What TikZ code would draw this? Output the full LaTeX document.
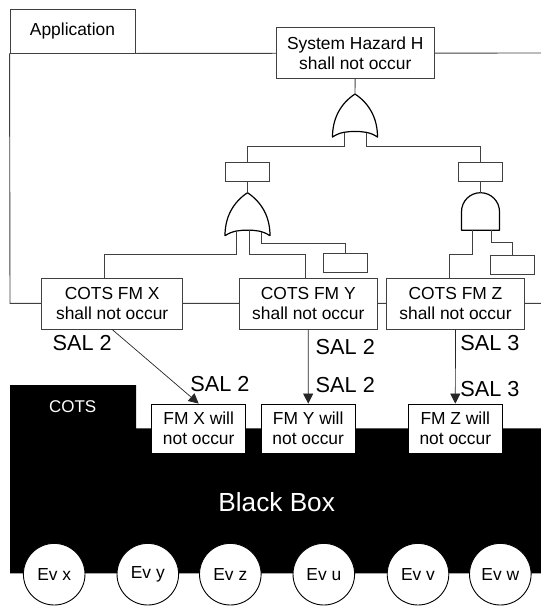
\documentclass[tikz,border=0pt]{standalone}
\usepackage{fontspec}
\setmainfont{Liberation Sans}
\usetikzlibrary{arrows.meta}

\tikzset{
  box/.style={draw=black!75, fill=white, line width=0.9pt, align=center, inner sep=0pt,
    font=\fontsize{17.4}{20}\selectfont},
  tinybox/.style={draw=black!75, fill=white, line width=0.9pt, inner sep=0pt,
    minimum width=44pt, minimum height=18.6pt},
  wire/.style={draw=black!75, line width=0.9pt},
  gate/.style={draw=black, fill=white, line width=1.2pt, line join=round},
  sal/.style={font=\fontsize{21.7}{24}\selectfont, inner sep=0pt},
  flow/.style={draw=black!85, line width=0.7pt, -{Triangle[length=10pt, width=10pt]}},
  event/.style={circle, draw=black, fill=white, line width=0.9pt, minimum size=61.6pt,
    inner sep=0pt, font=\fontsize{17.4}{20}\selectfont},
  orgate/.pic={
    \draw[gate] (0,0) .. controls (15,10) and (22.5,25) .. (22.5,43)
      .. controls (15,38) and (8,37.5) .. (0,37.5)
      .. controls (-8,37.5) and (-15,38) .. (-22.5,43)
      .. controls (-22.5,25) and (-15,10) .. (0,0) -- cycle;
    \coordinate (-top) at (0,0);
    \coordinate (-a) at (-11,38.6);
    \coordinate (-b) at (2.3,37.6);
    \coordinate (-c) at (11.5,38.7);
    \coordinate (-d) at (14.3,39.6);
  },
  andgate/.pic={
    \draw[gate] (-19,37.5) -- (-19,19) .. controls (-19,8.5) and (-10.5,0) .. (0,0)
      .. controls (10.5,0) and (19,8.5) .. (19,19) -- (19,37.5) -- cycle;
    \coordinate (-top) at (0,0);
    \coordinate (-a) at (-7.7,37.5);
    \coordinate (-c) at (10.7,37.5);
  },
}

\begin{document}
\begin{tikzpicture}[x=1pt, y=-1pt]
    \useasboundingbox (0,0) rectangle (541,608);

    % Application frame
    \node[box, minimum width=125pt, minimum height=44pt] (app) at (72.5,31) {Application};
    \draw[wire] (app.south west) -- (10,303.3) -- (541,303.3);
    \draw[wire] (app.south east) -- (541,53);

    % Fault tree
    \node[box, minimum width=157.3pt, minimum height=50.3pt] (sh) at (355.3,52.8) {System Hazard H\\shall not occur};
    \node[tinybox] (r1) at (247.5,172) {};
    \node[tinybox] (r2) at (480.5,172) {};
    \node[tinybox, minimum height=19pt] (r3) at (345.8,262.8) {};
    \node[tinybox, minimum height=18.3pt] (r4) at (512.3,264.8) {};
    \node[box, minimum width=141pt, minimum height=50.7pt] (cx) at (112.2,303.7) {COTS FM X\\shall not occur};
    \node[box, minimum width=138pt, minimum height=50.7pt] (cy) at (308.3,303.7) {COTS FM Y\\shall not occur};
    \node[box, minimum width=137.6pt, minimum height=50.7pt] (cz) at (455.5,303.7) {COTS FM Z\\shall not occur};

    % Gates
    \pic (g1) at (355,94) {orgate};
    \pic (g2) at (247.5,192.7) {orgate};
    \pic (g3) at (480.5,192.7) {andgate};

    \draw[wire] (sh) -- (g1-top);
    \draw[wire] (g1-a) -- ++(0,13.7) -| (r1.north);
    \draw[wire] (g1-c) -- ++(0,13.7) -| (r2.north);
    \draw[wire] (r1) -- (g2-top);
    \draw[wire] (r2) -- (g3-top);
    \draw[wire] (g2-a) -- ++(0,22.8) -| ([xshift=-8]cx.north);
    \draw[wire] (g2-b) -- ++(0,24) -| ([xshift=-3]cy.north);
    \draw[wire] (g2-d) -- ++(0,11) -| (r3.north);
    \draw[wire] (g3-a) -- ++(0,24.1) -| ([xshift=-6]cz.north);
    \draw[wire] (g3-c) -- ++(0,12.5) -| (r4.north);

    % Black box
    \fill[black] (10,385) -- (136,385) -- (136,428.3) -- (541,428.3) -- (541,573.3) -- (10,573.3) -- cycle;
    \node[text=white, font=\fontsize{17}{20}\selectfont] (cots) at (72.7,406.7) {COTS};
    \node[text=white, font=\fontsize{26.2}{30}\selectfont] (bb) at (276.7,501.7) {Black Box};
    \node[box, draw=black, minimum width=94pt, minimum height=49.3pt] (fx) at (198.7,428.7) {FM X will\\not occur};
    \node[box, draw=black, minimum width=94.3pt, minimum height=49.3pt] (fy) at (308.2,428.7) {FM Y will\\not occur};
    \node[box, draw=black, minimum width=94pt, minimum height=49.3pt] (fz) at (455.3,428.7) {FM Z will\\not occur};

    % Events
    \node[event] (ex) at (54.2,574.2) {Ev x};
    \node[event] (ey) at (147.8,574.2) {Ev y};
    \node[event] (ez) at (230.3,574.2) {Ev z};
    \node[event] (eu) at (323.8,574.2) {Ev u};
    \node[event] (ev) at (418,574.2) {Ev v};
    \node[event] (ew) at (500.3,574.2) {Ev w};

    % Allocation
    \draw[flow] (cx.south) -- (fx.north);
    \draw[flow] (cy.south) -- (fy.north);
    \draw[flow] (cz.south) -- (fz.north);
    \node[sal] (sx1) at (82.2,343.3) {SAL 2};
    \node[sal] (sx2) at (220,384.3) {SAL 2};
    \node[sal] (sy1) at (345.3,346.7) {SAL 2};
    \node[sal] (sy2) at (345.3,385) {SAL 2};
    \node[sal] (sz1) at (490,343.3) {SAL 3};
    \node[sal] (sz2) at (490,389.3) {SAL 3};
\end{tikzpicture}
\end{document}
